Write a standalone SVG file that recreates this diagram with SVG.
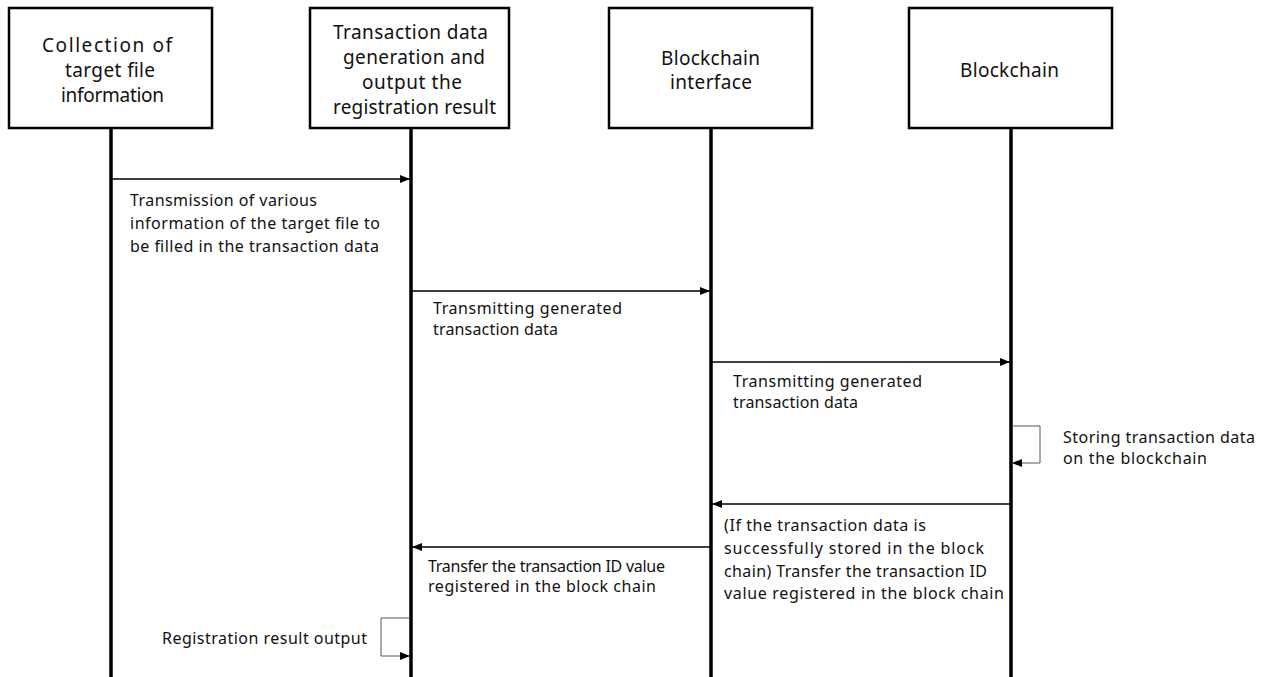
<svg xmlns="http://www.w3.org/2000/svg" width="1266" height="677" viewBox="0 0 1266 677">
<style>
.box{fill:#fff;stroke:#000;stroke-width:2.5}
.life{stroke:#000;stroke-width:3.5}
.hd{font-family:"Noto Sans","Open Sans",sans-serif;font-size:19px;fill:#111;text-anchor:middle;dominant-baseline:central}
.lb{font-family:"Noto Sans","Open Sans",sans-serif;font-size:16px;fill:#111;dominant-baseline:central}
.msg{stroke:#000;stroke-width:1.5;fill:none}
.self{stroke:#555;stroke-width:1;fill:none}
</style>
<defs>
<marker id="ah" markerWidth="10" markerHeight="8" refX="10" refY="4" orient="auto" markerUnits="userSpaceOnUse">
<path d="M0,0 L10,4 L0,8 Z" fill="#000"/>
</marker>
</defs>
<g id="lifelines">
<line class="life" x1="111" y1="128" x2="111" y2="677"/>
<line class="life" x1="411" y1="128" x2="411" y2="677"/>
<line class="life" x1="711" y1="128" x2="711" y2="677"/>
<line class="life" x1="1011" y1="128" x2="1011" y2="677"/>
</g>
<g id="node1">
<rect class="box" x="9" y="8" width="203" height="120"/>
<text class="hd" x="107" y="45" textLength="130" lengthAdjust="spacing">Collection of</text>
<text class="hd" x="110" y="70" textLength="90" lengthAdjust="spacing">target file</text>
<text class="hd" x="112.5" y="95" textLength="103" lengthAdjust="spacing">information</text>
</g>
<g id="node2">
<rect class="box" x="310" y="8" width="199" height="120"/>
<text class="hd" x="410.5" y="32" textLength="155" lengthAdjust="spacing">Transaction data</text>
<text class="hd" x="414" y="57" textLength="142" lengthAdjust="spacing">generation and</text>
<text class="hd" x="412" y="82" textLength="100" lengthAdjust="spacing">output the</text>
<text class="hd" x="414.5" y="107" textLength="163" lengthAdjust="spacing">registration result</text>
</g>
<g id="node3">
<rect class="box" x="609" y="8" width="203" height="120"/>
<text class="hd" x="710.5" y="58" textLength="99" lengthAdjust="spacing">Blockchain</text>
<text class="hd" x="711" y="82" textLength="82" lengthAdjust="spacing">interface</text>
</g>
<g id="node4">
<rect class="box" x="909" y="8" width="203" height="120"/>
<text class="hd" x="1009.5" y="70" textLength="99" lengthAdjust="spacing">Blockchain</text>
</g>
<g id="connectors">
<line class="msg" x1="111" y1="179" x2="410" y2="179" marker-end="url(#ah)"/>
<line class="msg" x1="411" y1="291" x2="710" y2="291" marker-end="url(#ah)"/>
<line class="msg" x1="711" y1="362" x2="1010" y2="362" marker-end="url(#ah)"/>
<polyline class="self" points="1012,426 1040,426 1040,463 1012,463" marker-end="url(#ah)"/>
<line class="msg" x1="1011" y1="504" x2="712" y2="504" marker-end="url(#ah)"/>
<line class="msg" x1="711" y1="547" x2="412" y2="547" marker-end="url(#ah)"/>
<polyline class="self" points="410,618 381,618 381,656 410,656" marker-end="url(#ah)"/>
</g>
<g id="labels">
<text class="lb" x="130" y="200" textLength="187" lengthAdjust="spacing">Transmission of various</text>
<text class="lb" x="130" y="223" textLength="250" lengthAdjust="spacing">information of the target file to</text>
<text class="lb" x="130" y="246" textLength="249" lengthAdjust="spacing">be filled in the transaction data</text>
<text class="lb" x="433" y="308" textLength="189" lengthAdjust="spacing">Transmitting generated</text>
<text class="lb" x="433" y="329" textLength="125" lengthAdjust="spacing">transaction data</text>
<text class="lb" x="733" y="381" textLength="189" lengthAdjust="spacing">Transmitting generated</text>
<text class="lb" x="733" y="402" textLength="125" lengthAdjust="spacing">transaction data</text>
<text class="lb" x="1063" y="437" textLength="192" lengthAdjust="spacing">Storing transaction data</text>
<text class="lb" x="1063" y="458" textLength="144" lengthAdjust="spacing">on the blockchain</text>
<text class="lb" x="724" y="525" textLength="202" lengthAdjust="spacing">(If the transaction data is</text>
<text class="lb" x="724" y="548" textLength="260" lengthAdjust="spacing">successfully stored in the block</text>
<text class="lb" x="724" y="571" textLength="263" lengthAdjust="spacing">chain) Transfer the transaction ID</text>
<text class="lb" x="724" y="593" textLength="280" lengthAdjust="spacing">value registered in the block chain</text>
<text class="lb" x="428" y="566" textLength="237" lengthAdjust="spacing">Transfer the transaction ID value</text>
<text class="lb" x="428" y="586" textLength="228" lengthAdjust="spacing">registered in the block chain</text>
<text class="lb" x="162" y="638" textLength="205" lengthAdjust="spacing">Registration result output</text>
</g>
</svg>
